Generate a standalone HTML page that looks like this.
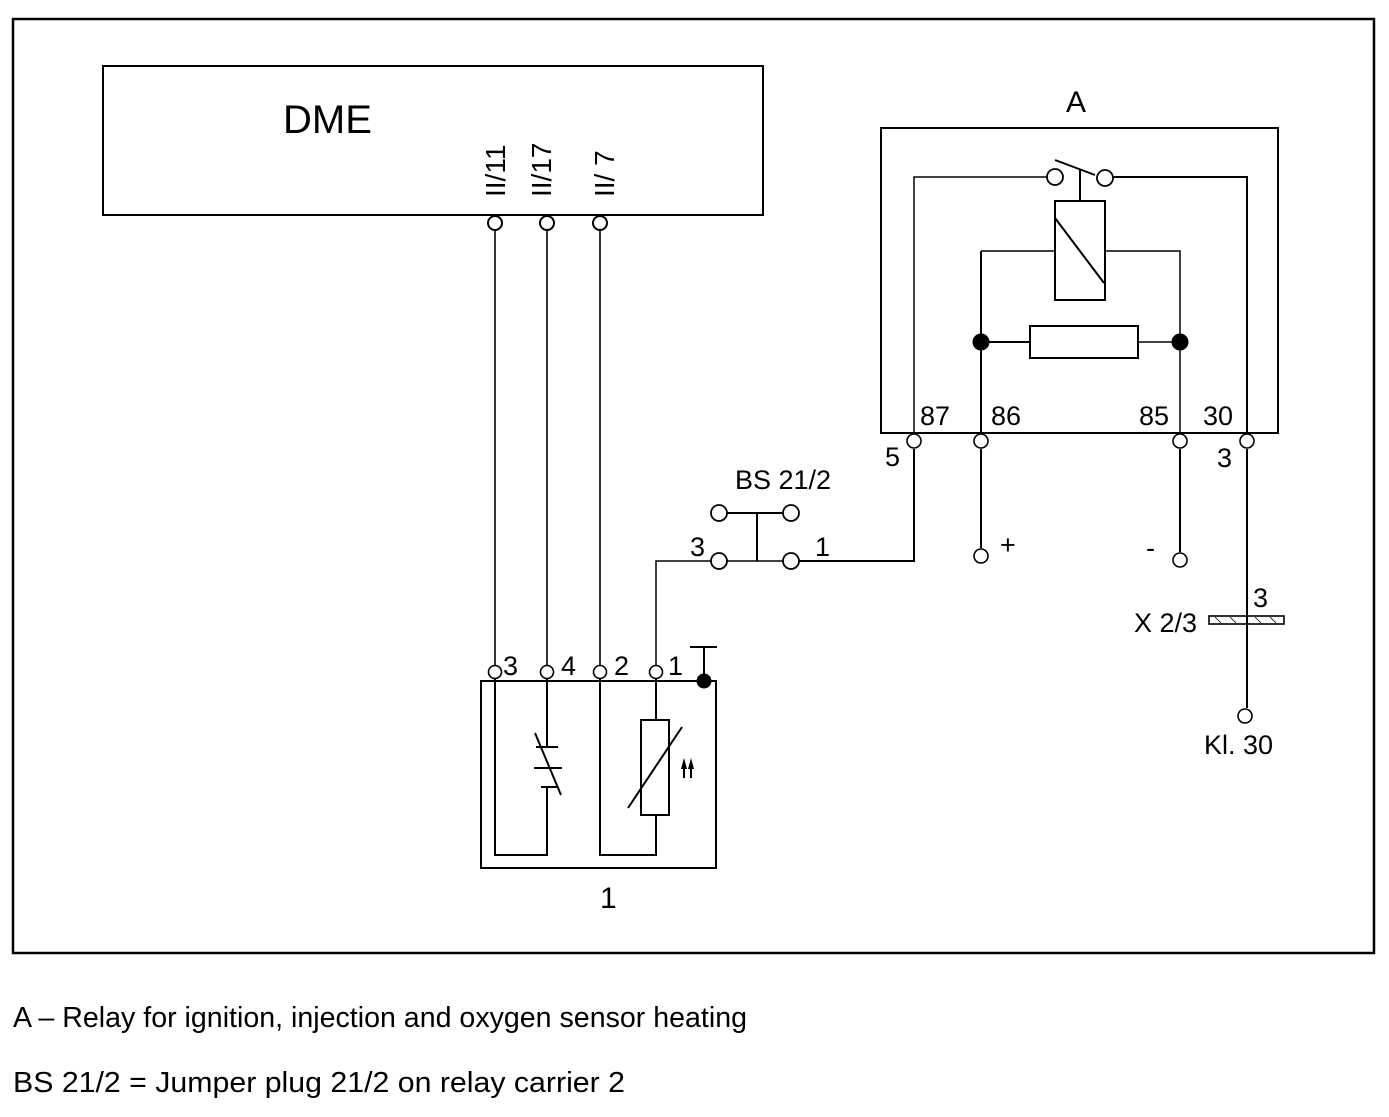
<!DOCTYPE html>
<html><head><meta charset="utf-8"><style>html,body{margin:0;padding:0;background:#fff}svg{display:block}</style></head>
<body>
<svg width="1389" height="1117" viewBox="0 0 1389 1117" xmlns="http://www.w3.org/2000/svg" font-family="Liberation Sans, sans-serif" fill="none" stroke="#000">
<rect x="13" y="19" width="1361" height="934" stroke-width="2.5"/>
<!-- DME -->
<rect x="103" y="66" width="660" height="149" stroke-width="2"/>
<g fill="#000" stroke="none">
<text x="283" y="133" font-size="40">DME</text>
<text transform="translate(505,197) rotate(-90)" font-size="28">II/11</text>
<text transform="translate(551,197) rotate(-90)" font-size="28">II/17</text>
<text transform="translate(614,197) rotate(-90)" font-size="28">II/ 7</text>
</g>
<g stroke-width="1.6">
<line x1="495" y1="230" x2="495" y2="665"/>
<line x1="547" y1="230" x2="547" y2="665"/>
<line x1="600" y1="230" x2="600" y2="665"/>
</g>
<g stroke-width="2" fill="#fff">
<circle cx="495" cy="223" r="7"/><circle cx="547" cy="223" r="7"/><circle cx="600" cy="223" r="7"/>
</g>
<!-- sensor box -->
<rect x="481" y="681" width="235" height="187" stroke-width="2"/>
<g stroke-width="2">
<polyline points="495,679 495,855 547,855 547,787"/>
<line x1="547" y1="679" x2="547" y2="747"/>
<line x1="536" y1="747" x2="558" y2="747"/>
<line x1="534" y1="768" x2="562" y2="768"/>
<line x1="541" y1="787" x2="557" y2="787"/>
<line x1="535" y1="733" x2="561" y2="795"/>
<polyline points="600,679 600,855 656,855 656,815"/>
<line x1="656" y1="679" x2="656" y2="720"/>
<rect x="641" y="720" width="28" height="95"/>
<line x1="628" y1="808" x2="682" y2="727"/>
<line x1="704" y1="647" x2="704" y2="681"/>
<line x1="690" y1="647" x2="717" y2="647"/>
</g>
<circle cx="704" cy="681" r="7" fill="#000"/>
<g fill="#000" stroke="none">
<path d="M681 769 L684 758 L687 769 Z M688 769 L691 758 L694 769 Z"/>
<rect x="683" y="766" width="2" height="12"/><rect x="690" y="766" width="2" height="12"/>
</g>
<g stroke-width="1.6" fill="#fff">
<circle cx="495" cy="672" r="6.5"/><circle cx="547" cy="672" r="6.5"/><circle cx="600" cy="672" r="6.5"/><circle cx="656" cy="672" r="6.5"/>
</g>
<g fill="#000" stroke="none" font-size="27">
<text x="503" y="675">3</text><text x="561" y="675">4</text><text x="614" y="675">2</text><text x="668" y="675">1</text>
<text x="600" y="908" font-size="30">1</text>
</g>
<!-- BS 21/2 -->
<g stroke-width="1.5">
<polyline points="656,665 656,561 711,561"/>
<line x1="727" y1="561" x2="783" y2="561"/>
</g>
<g stroke-width="2">
<line x1="727" y1="513" x2="783" y2="513"/>
<line x1="757" y1="513" x2="757" y2="561"/>
<polyline points="799,561 914,561 914,449"/>
</g>
<g stroke-width="1.8" fill="#fff">
<circle cx="719" cy="513" r="8"/><circle cx="791" cy="513" r="8"/><circle cx="719" cy="561" r="8"/><circle cx="791" cy="561" r="8"/>
</g>
<g fill="#000" stroke="none" font-size="27">
<text x="735" y="489">BS 21/2</text>
<text x="690" y="556">3</text><text x="815" y="556">1</text>
</g>
<!-- Relay -->
<rect x="881" y="128" width="397" height="305" stroke-width="2"/>
<g stroke-width="1.5">
<polyline points="914,433 914,177 1047,177"/>
<polyline points="981,251 1055,251"/>
<polyline points="1105,251 1180,251 1180,433"/>
<line x1="1180" y1="342" x2="1138" y2="342"/>
</g>
<g stroke-width="2">
<polyline points="1113,177 1247,177 1247,433"/>
<line x1="1055" y1="160" x2="1095" y2="175"/>
<line x1="1080" y1="170" x2="1080" y2="201"/>
<rect x="1055" y="201" width="50" height="99"/>
<line x1="1055" y1="218" x2="1104" y2="283"/>
<line x1="981" y1="251" x2="981" y2="433"/>
<rect x="1030" y="326" width="108" height="32"/>
<line x1="981" y1="342" x2="1030" y2="342"/>
</g>
<circle cx="981" cy="342" r="8" fill="#000"/><circle cx="1180" cy="342" r="8" fill="#000"/>
<g stroke-width="1.8" fill="#fff">
<circle cx="1055" cy="177" r="8"/><circle cx="1105" cy="178" r="8"/>
</g>
<g stroke-width="2">
<line x1="981" y1="449" x2="981" y2="548"/>
<line x1="1180" y1="449" x2="1180" y2="552"/>
<line x1="1247" y1="449" x2="1247" y2="708"/>
</g>
<g stroke-width="1.6" fill="#fff">
<circle cx="914" cy="441" r="7"/><circle cx="981" cy="441" r="7"/><circle cx="1180" cy="441" r="7"/><circle cx="1247" cy="441" r="7"/>
<circle cx="981" cy="556" r="7"/><circle cx="1180" cy="560" r="7"/><circle cx="1245" cy="716" r="7"/>
</g>
<rect x="1209" y="616" width="75" height="8" stroke-width="1.6" fill="#fff"/>
<g stroke-width="0.8"><line x1="1215" y1="617" x2="1221" y2="623"/><line x1="1230" y1="617" x2="1236" y2="623"/><line x1="1255" y1="617" x2="1261" y2="623"/><line x1="1270" y1="617" x2="1276" y2="623"/></g>
<line x1="1247" y1="610" x2="1247" y2="630" stroke-width="2"/>
<g fill="#000" stroke="none" font-size="27">
<text x="1066" y="112" font-size="30">A</text>
<text x="920" y="425">87</text><text x="991" y="425">86</text><text x="1139" y="425">85</text><text x="1203" y="425">30</text>
<text x="885" y="466">5</text><text x="1217" y="467">3</text>
<text x="1000" y="554">+</text><text x="1146" y="557">-</text>
<text x="1253" y="607">3</text>
<text x="1134" y="632">X 2/3</text>
<text x="1204" y="754">Kl. 30</text>
</g>
<g fill="#000" stroke="none" font-size="29">
<text x="13" y="1027" textLength="734" lengthAdjust="spacingAndGlyphs">A – Relay for ignition, injection and oxygen sensor heating</text>
<text x="13" y="1092" textLength="612" lengthAdjust="spacingAndGlyphs">BS 21/2 = Jumper plug 21/2 on relay carrier 2</text>
</g>
</svg>
</body></html>
